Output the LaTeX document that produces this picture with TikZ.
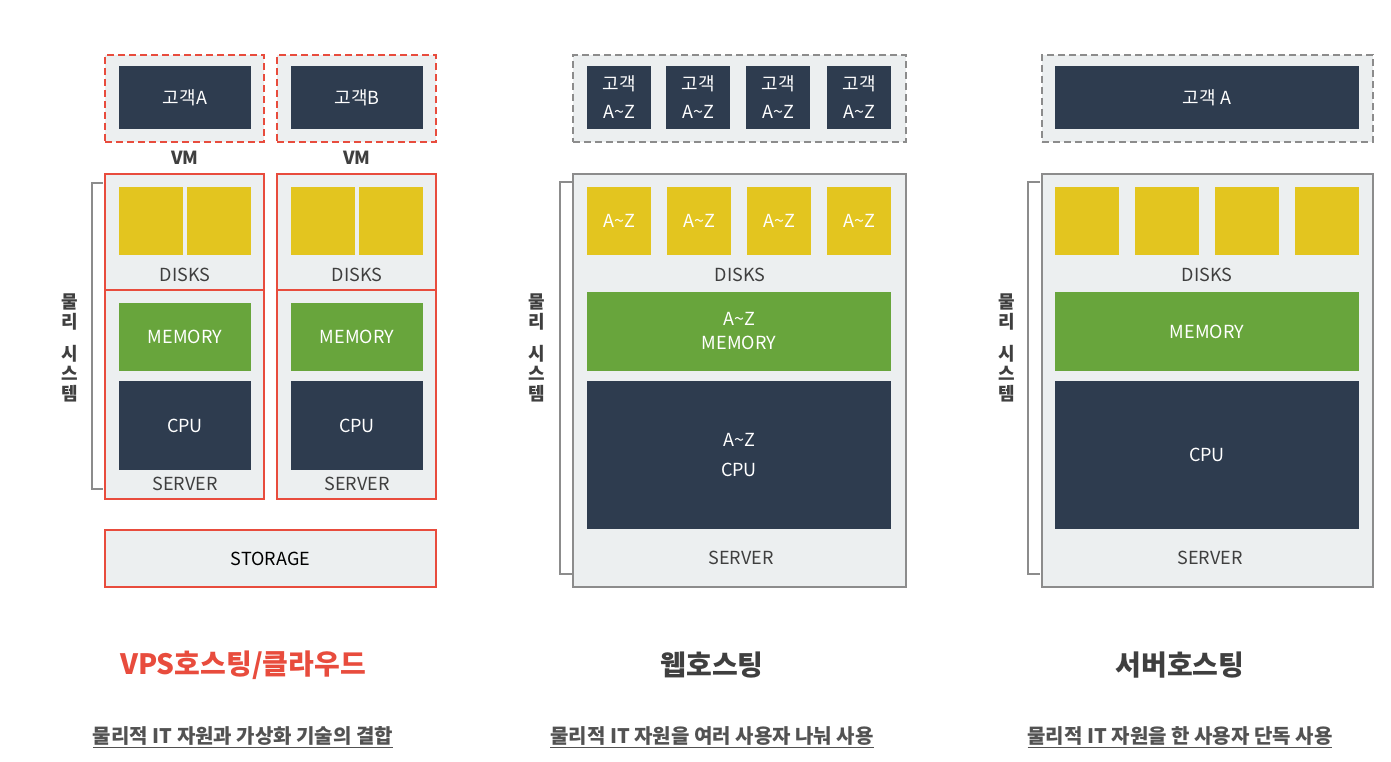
\documentclass[tikz,border=0pt]{standalone}
\usepackage{fontspec}
\setmainfont{Noto Sans CJK KR}
\usepackage{xcolor}
\definecolor{navy}{HTML}{2E3C4F}
\definecolor{diskyellow}{HTML}{E3C51F}
\definecolor{memgreen}{HTML}{68A53C}
\definecolor{panel}{HTML}{ECEFF0}
\definecolor{hostred}{HTML}{E84C3D}
\definecolor{framegray}{HTML}{8C8C8C}
\definecolor{labelgray}{HTML}{3F3F3F}
\newcommand\atoz{A\textasciitilde Z}

\begin{document}
\begin{tikzpicture}[x=1pt,y=-1pt,
  box/.style={inner sep=0pt,outer sep=0pt,align=center,
    font=\fontsize{18}{24}\selectfont},
  cust/.style={box,fill=navy,text=white,minimum height=63pt},
  disk/.style={box,fill=diskyellow,text=white,minimum width=64pt,minimum height=68pt},
  mem/.style={box,fill=memgreen,text=white},
  cpu/.style={box,fill=navy,text=white},
  redframe/.style={box,fill=panel,draw=hostred,line width=1.8pt},
  grayframe/.style={box,fill=panel,draw=framegray,line width=1.8pt},
  dashframe/.style={dash pattern=on 7pt off 4pt},
  lbl/.style={box,text=labelgray},
  vmlbl/.style={box,font=\fontsize{18}{21}\selectfont\bfseries,text=labelgray},
  side/.style={box,font=\fontsize{18}{20}\selectfont\bfseries,text=labelgray},
  bracket/.style={draw=framegray,line width=1.5pt},
  title/.style={box,font=\fontsize{28}{30}\selectfont\bfseries},
  sub/.style={box,font=\fontsize{20}{22}\selectfont\bfseries,text=labelgray!90}]
  \useasboundingbox (0,0) rectangle (1391,762);

  \node[redframe,dashframe,minimum width=159pt,minimum height=87pt] (vma) at (184.5,98.5) {};
  \node[cust,minimum width=132pt] (ca) at (185,97.5) {고객A};
  \node[redframe,dashframe,minimum width=159pt,minimum height=87pt] (vmb) at (356.5,98.5) {};
  \node[cust,minimum width=132pt] (cb) at (357,97.5) {고객B};
  \node[vmlbl] (vmla) at (185,158) {VM};
  \node[vmlbl] (vmlb) at (357,158) {VM};
  \node[redframe,minimum width=159pt,minimum height=116pt] (dska) at (184.5,232) {};
  \node[redframe,minimum width=159pt,minimum height=209pt] (srva) at (184.5,394.5) {};
  \node[redframe,minimum width=159pt,minimum height=116pt] (dskb) at (356.5,232) {};
  \node[redframe,minimum width=159pt,minimum height=209pt] (srvb) at (356.5,394.5) {};
  \node[disk] (da1) at (151,221) {};
  \node[disk] (da2) at (219,221) {};
  \node[disk] (db1) at (323,221) {};
  \node[disk] (db2) at (391,221) {};
  \node[lbl] (dla) at (185,275) {DISKS};
  \node[lbl] (dlb) at (357,275) {DISKS};
  \node[mem,minimum width=132pt,minimum height=68pt] (ma) at (185,337) {MEMORY};
  \node[mem,minimum width=132pt,minimum height=68pt] (mb) at (357,337) {MEMORY};
  \node[cpu,minimum width=132pt,minimum height=89pt] (pa) at (185,425.5) {CPU};
  \node[cpu,minimum width=132pt,minimum height=89pt] (pb) at (357,425.5) {CPU};
  \node[lbl] (sla) at (185,484) {SERVER};
  \node[lbl] (slb) at (357,484) {SERVER};
  \node[redframe,minimum width=331pt,minimum height=57pt] (sto) at (270.5,558.5) {STORAGE};
  \coordinate (bra) at (103,183);
  \coordinate (brb) at (103,489);
  \draw[bracket] (bra) -| (92,489) -- (brb);
  \node[side] (sya) at (70,348) {물\\리\\[12pt]시\\스\\템};
  \node[title,text=hostred] (ta) at (243,665) {VPS호스팅/클라우드};
  \node[sub] (suba) at (243,737) {\underline{물리적 IT 자원과 가상화 기술의 결합}};

  \node[grayframe,dashframe,minimum width=333pt,minimum height=87pt] (wcf) at (739.5,98.5) {};
  \node[cust,minimum width=64pt,font=\fontsize{18}{28}\selectfont] (wc1) at (619,97.5) {고객\\\atoz};
  \node[cust,minimum width=64pt,font=\fontsize{18}{28}\selectfont] (wc2) at (698,97.5) {고객\\\atoz};
  \node[cust,minimum width=64pt,font=\fontsize{18}{28}\selectfont] (wc3) at (778,97.5) {고객\\\atoz};
  \node[cust,minimum width=64pt,font=\fontsize{18}{28}\selectfont] (wc4) at (859,97.5) {고객\\\atoz};
  \node[grayframe,minimum width=333pt,minimum height=413pt] (wsrv) at (739.5,380.5) {};
  \node[disk] (wd1) at (619,221) {\atoz};
  \node[disk] (wd2) at (699,221) {\atoz};
  \node[disk] (wd3) at (779,221) {\atoz};
  \node[disk] (wd4) at (859,221) {\atoz};
  \node[lbl] (wdl) at (740,275) {DISKS};
  \node[mem,minimum width=304pt,minimum height=79pt] (wm) at (739,331.5) {\atoz\\MEMORY};
  \node[cpu,minimum width=304pt,minimum height=148pt,
    font=\fontsize{18}{30}\selectfont] (wp) at (739,455) {\atoz\\CPU};
  \node[lbl] (wsl) at (741,558) {SERVER};
  \coordinate (brwa) at (572,182);
  \coordinate (brwb) at (572,574);
  \draw[bracket] (brwa) -| (560,574) -- (brwb);
  \node[side] (syw) at (537,348) {물\\리\\[12pt]시\\스\\템};
  \node[title,text=labelgray] (tw) at (712,665) {웹호스팅};
  \node[sub] (subw) at (712,737) {\underline{물리적 IT 자원을 여러 사용자 나눠 사용}};

  \node[grayframe,dashframe,minimum width=331pt,minimum height=87pt] (scf) at (1207.5,98.5) {};
  \node[cust,minimum width=304pt] (sc) at (1207,97.5) {고객 A};
  \node[grayframe,minimum width=331pt,minimum height=413pt] (ssrv) at (1207.5,380.5) {};
  \node[disk] (sd1) at (1087,221) {};
  \node[disk] (sd2) at (1167,221) {};
  \node[disk] (sd3) at (1247,221) {};
  \node[disk] (sd4) at (1327,221) {};
  \node[lbl] (sdl) at (1207,275) {DISKS};
  \node[mem,minimum width=304pt,minimum height=79pt] (sm) at (1207,331.5) {MEMORY};
  \node[cpu,minimum width=304pt,minimum height=148pt] (sp) at (1207,455) {CPU};
  \node[lbl] (ssl) at (1210,558) {SERVER};
  \coordinate (brsa) at (1040,182);
  \coordinate (brsb) at (1040,574);
  \draw[bracket] (brsa) -| (1028,574) -- (brsb);
  \node[side] (sys) at (1007,348) {물\\리\\[12pt]시\\스\\템};
  \node[title,text=labelgray] (ts) at (1180,665) {서버호스팅};
  \node[sub] (subs) at (1180,737) {\underline{물리적 IT 자원을 한 사용자 단독 사용}};
\end{tikzpicture}
\end{document}
